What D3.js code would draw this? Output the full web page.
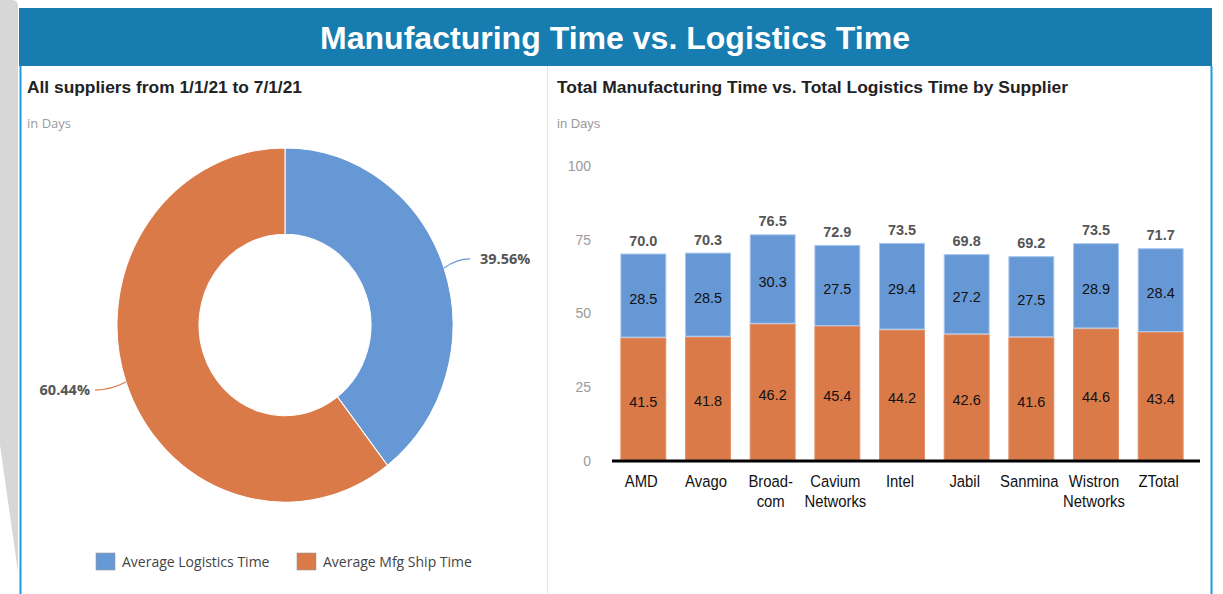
<!DOCTYPE html>
<html>
<head>
<meta charset="utf-8">
<script src="https://cdn.jsdelivr.net/npm/d3@7"></script>
<style>
  body { margin: 0; background: #fff; }
  svg { display: block; }
</style>
</head>
<body>
<div id="chart"></div>
<script>
// donut data
const shareLabels = ['Average Logistics Time', 'Average Mfg Ship Time'];
const shareValues = [39.56, 60.44];

// stacked bar data
const suppliers = ['AMD', 'Avago', 'Broad-\ncom', 'Cavium\nNetworks', 'Intel', 'Jabil', 'Sanmina', 'Wistron\nNetworks', 'ZTotal'];
const mfgTime = [41.5, 41.8, 46.2, 45.4, 44.2, 42.6, 41.6, 44.6, 43.4];
const logisticsTime = [28.5, 28.5, 30.3, 27.5, 29.4, 27.2, 27.5, 28.9, 28.4];
const totalTime = [70.0, 70.3, 76.5, 72.9, 73.5, 69.8, 69.2, 73.5, 71.7];
const yTicks = [0, 25, 50, 75, 100];

const W = 1223, H = 594;
const BLUE = '#6798d6', ORANGE = '#da7a49';
const SANS = 'Liberation Sans, Arial, sans-serif';
const OPEN = 'Open Sans, Noto Sans, sans-serif';

const svg = d3.select('#chart').append('svg')
  .attr('width', W)
  .attr('height', H);

// grey strip at the far left
svg.append('path')
  .attr('d', 'M0,0 L12,0 Q18,0 18,6 L18,572 L0,445 Z')
  .attr('fill', '#d7d7d7');

// header band
svg.append('rect')
  .attr('x', 19).attr('y', 8)
  .attr('width', 1193).attr('height', 58)
  .attr('fill', '#177cb0');

svg.append('text')
  .attr('x', 615).attr('y', 49)
  .attr('text-anchor', 'middle')
  .attr('fill', '#fff')
  .attr('font-family', SANS)
  .attr('font-weight', 'bold')
  .attr('font-size', 32)
  .attr('textLength', 590).attr('lengthAdjust', 'spacingAndGlyphs')
  .text('Manufacturing Time vs. Logistics Time');

// panel borders
svg.append('line').attr('x1', 20.5).attr('x2', 20.5).attr('y1', 66).attr('y2', H)
  .attr('stroke', '#1a9be3').attr('stroke-width', 2);
svg.append('line').attr('x1', 1211.5).attr('x2', 1211.5).attr('y1', 66).attr('y2', H)
  .attr('stroke', '#1a9be3').attr('stroke-width', 2);
svg.append('line').attr('x1', 547.5).attr('x2', 547.5).attr('y1', 66).attr('y2', H)
  .attr('stroke', '#e4e4e4').attr('stroke-width', 1);

// ---------- left panel: donut ----------
svg.append('text')
  .attr('x', 27).attr('y', 93)
  .attr('font-family', SANS).attr('font-weight', 'bold').attr('font-size', 16)
  .attr('fill', '#222')
  .attr('textLength', 275).attr('lengthAdjust', 'spacingAndGlyphs')
  .text('All suppliers from 1/1/21 to 7/1/21');

svg.append('text')
  .attr('x', 27).attr('y', 128)
  .attr('font-family', OPEN).attr('font-size', 13)
  .attr('fill', '#9a9a9a')
  .text('in Days');

const cx = 285, cy = 325, rOut = 168, rIn = 86, sy = 1.054;
const colors = [BLUE, ORANGE];

const pie = d3.pie().sort(null).value(d => d);
const arcs = pie(shareValues);
const arc = d3.arc().innerRadius(rIn).outerRadius(rOut);

const donut = svg.append('g')
  .attr('transform', `translate(${cx},${cy}) scale(1,${sy})`);

donut.selectAll('path')
  .data(arcs)
  .enter().append('path')
    .attr('d', arc)
    .attr('fill', (d, i) => colors[i])
    .attr('stroke', '#fff')
    .attr('stroke-width', 1);

// leader lines + percentage labels
arcs.forEach((d, i) => {
  const a = (d.startAngle + d.endAngle) / 2;
  const px = cx + rOut * Math.sin(a);
  const py = cy - rOut * sy * Math.cos(a);
  const right = Math.sin(a) > 0;
  const ex = right ? px + 26 : px - 31;
  const ey = right ? py - 9 : py + 8;
  svg.append('path')
    .attr('d', `M${px},${py} Q${(px + ex) / 2},${ey} ${ex},${ey}`)
    .attr('fill', 'none')
    .attr('stroke', colors[i])
    .attr('stroke-width', 1.2);
  svg.append('text')
    .attr('x', right ? ex + 10 : ex - 5)
    .attr('y', ey + 5)
    .attr('text-anchor', right ? 'start' : 'end')
    .attr('font-family', OPEN).attr('font-weight', 'bold').attr('font-size', 14.5)
    .attr('fill', '#555')
    .text(d3.format('.2f')(d.data) + '%');
});

// legend
const legendX = [96, 297];
const legend = svg.selectAll('.legend')
  .data(shareLabels)
  .enter().append('g')
    .attr('transform', (d, i) => `translate(${legendX[i]},553)`);
legend.append('rect')
  .attr('width', 19).attr('height', 17)
  .attr('fill', (d, i) => colors[i])
  .attr('stroke', '#999').attr('stroke-width', 0.6);
legend.append('text')
  .attr('x', 26).attr('y', 14)
  .attr('font-family', OPEN).attr('font-size', 14)
  .attr('fill', '#444')
  .text(d => d);

// ---------- right panel: stacked bars ----------
svg.append('text')
  .attr('x', 557).attr('y', 93)
  .attr('font-family', SANS).attr('font-weight', 'bold').attr('font-size', 16)
  .attr('fill', '#222')
  .attr('textLength', 511).attr('lengthAdjust', 'spacingAndGlyphs')
  .text('Total Manufacturing Time vs. Total Logistics Time by Supplier');

svg.append('text')
  .attr('x', 557).attr('y', 128)
  .attr('font-family', SANS).attr('font-size', 13)
  .attr('fill', '#9a9a9a')
  .text('in Days');

const x = d3.scaleBand()
  .domain(suppliers)
  .range([611, 1193])
  .paddingInner(0.29)
  .paddingOuter(0.145);

const y = d3.scaleLinear()
  .domain([0, 100])
  .range([460, 165]);

const rows = suppliers.map((s, i) => ({ name: s, mfg: mfgTime[i], logistics: logisticsTime[i], total: totalTime[i] }));
const stack = d3.stack().keys(['mfg', 'logistics'])(rows);
const stackColors = { mfg: ORANGE, logistics: BLUE };
const strokeColors = { mfg: '#e38d63', logistics: '#a9c7ee' };

// y axis labels only
const yAxis = svg.append('g')
  .attr('transform', 'translate(593,0)')
  .call(d3.axisLeft(y).tickValues(yTicks).tickSize(0).tickPadding(2));
yAxis.select('.domain').remove();
yAxis.selectAll('text')
  .attr('font-family', SANS).attr('font-size', 14)
  .attr('fill', '#9a9a9a')
  .attr('dy', '0.38em');

const layers = svg.selectAll('.layer')
  .data(stack)
  .enter().append('g')
    .attr('class', 'layer');

layers.selectAll('rect')
  .data(s => s.map(d => ({ key: s.key, d })))
  .enter().append('rect')
    .attr('x', (v, i) => x(suppliers[i]) + 0.5)
    .attr('y', v => y(v.d[1]) + 0.5)
    .attr('width', x.bandwidth() - 1)
    .attr('height', v => y(v.d[0]) - y(v.d[1]) - 1)
    .attr('fill', v => stackColors[v.key])
    .attr('stroke', v => strokeColors[v.key])
    .attr('stroke-width', 1);

layers.selectAll('text')
  .data(s => s.map(d => ({ key: s.key, d })))
  .enter().append('text')
    .attr('x', (v, i) => x(suppliers[i]) + x.bandwidth() / 2)
    .attr('y', v => (y(v.d[0]) + y(v.d[1])) / 2 + 8)
    .attr('text-anchor', 'middle')
    .attr('font-family', SANS).attr('font-size', 14.5)
    .attr('fill', '#111')
    .text(v => d3.format('.1f')(v.d[1] - v.d[0]));

// totals above bars
svg.selectAll('.total')
  .data(rows)
  .enter().append('text')
    .attr('x', d => x(d.name) + x.bandwidth() / 2)
    .attr('y', d => y(d.mfg + d.logistics) - 8)
    .attr('text-anchor', 'middle')
    .attr('font-family', SANS).attr('font-weight', 'bold').attr('font-size', 14.5)
    .attr('fill', '#555')
    .text(d => d3.format('.1f')(d.total));

// x axis
const xAxis = svg.append('g')
  .attr('transform', 'translate(0,461)')
  .call(d3.axisBottom(x).tickSize(0).tickFormat(''));
xAxis.select('.domain')
  .attr('d', 'M612,0H1200')
  .attr('stroke', '#000')
  .attr('stroke-width', 3);

// category labels, squeezed to look like a narrow face
const xLabels = svg.selectAll('.xlab')
  .data(suppliers)
  .enter().append('text')
    .attr('transform', d => `translate(${x(d) + x.bandwidth() / 2 - 2},487) scale(0.9,1)`)
    .attr('text-anchor', 'middle')
    .attr('font-family', SANS)
    .attr('font-size', 16.5)
    .attr('fill', '#111');
xLabels.selectAll('tspan')
  .data(d => d.split('\n'))
  .enter().append('tspan')
    .attr('x', 0)
    .attr('dy', (d, i) => i ? 20 : 0)
    .text(d => d);
</script>
</body>
</html>
